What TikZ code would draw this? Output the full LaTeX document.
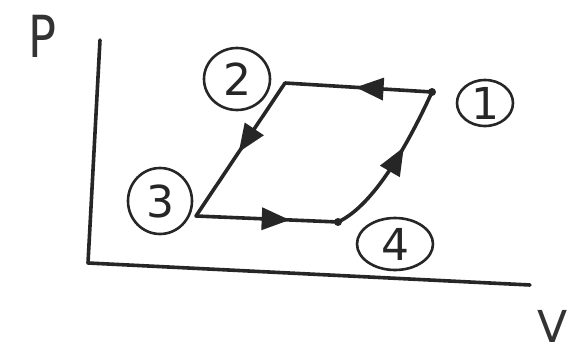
\documentclass[tikz,border=0pt]{standalone}
\usepackage{fontspec}
\setmainfont{DejaVu Sans}
\usetikzlibrary{arrows.meta,decorations.markings,shapes.geometric}
\begin{document}
\begin{tikzpicture}[x=1pt,y=-1pt,
  axis/.style={line width=3.6pt,line cap=round,line join=round,draw=black!85},
  proc/.style={line width=3.6pt,line cap=round,draw=black!85},
  midarrow/.style={postaction={decorate},decoration={markings,
     mark=at position #1 with {\arrow{Triangle[length=28pt,width=22pt]}}}},
  statelbl/.style={ellipse,draw=black!85,line width=2.6pt,inner sep=0pt,
     font=\fontsize{44}{44}\selectfont,text=black!85},
  axlbl/.style={inner sep=0pt,text=black!80}]
\useasboundingbox (0,0) rectangle (579,354);
% axes
\coordinate (ytop) at (100,40);
\coordinate (org) at (88,263);
\coordinate (xend) at (530,285);
\draw[axis] (ytop) -- (org) -- (xend);
\node[axlbl,font=\fontsize{58}{58}\selectfont\addfontfeatures{FakeStretch=0.8}] (P) at (42,36) {P};
\node[axlbl,font=\fontsize{44}{44}\selectfont] (V) at (553,326) {V};
% states
\coordinate (s1) at (432,92);
\coordinate (s2) at (285,83);
\coordinate (s3) at (196,216);
\coordinate (s4) at (338,222);
% processes
\draw[proc,midarrow=0.52] (s1) -- (s2);
\draw[proc,midarrow=0.52] (s2) -- (s3);
\draw[proc,midarrow=0.66] (s3) -- (s4);
\draw[proc,midarrow=0.62] (s4) .. controls (375,205) and (410,140) .. (s1);
\fill[black!85] (s4) circle (4pt);
\fill[black!85] (s1) circle (4pt);
% labels
\node[statelbl,minimum width=56pt,minimum height=46pt] (l1) at (485,103) {1};
\node[statelbl,minimum width=66pt,minimum height=62pt] (l2) at (237,79) {2};
\node[statelbl,minimum width=64pt,minimum height=66pt] (l3) at (160,201) {3};
\node[statelbl,minimum width=76pt,minimum height=52pt] (l4) at (395,244) {4};
\end{tikzpicture}
\end{document}
